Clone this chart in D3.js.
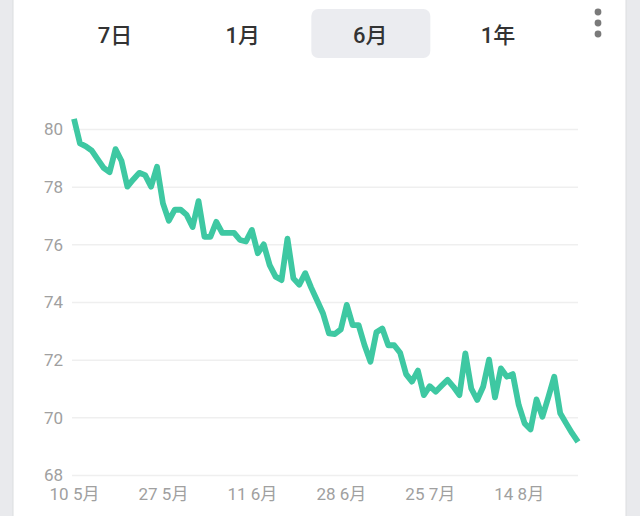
<!DOCTYPE html>
<html>
<head>
<meta charset="utf-8">
<script src="https://cdn.jsdelivr.net/npm/d3@7"></script>
<style>
  html, body { margin: 0; padding: 0; background: #e9eaed; }
  svg { display: block; }
</style>
</head>
<body>
<svg id="chart" width="640" height="516"></svg>
<script>
const tabLabels = ["7日", "1月", "6月", "1年"];
const selectedTab = "6月";

const values = [
  80.35, 79.5, 79.4, 79.25, 78.95, 78.65, 78.5, 79.3, 78.9, 78.0,
  78.25, 78.48, 78.4, 78.0, 78.69, 77.42, 76.82, 77.2, 77.2, 77.02,
  76.6, 77.5, 76.26, 76.26, 76.78, 76.4, 76.4, 76.4, 76.15, 76.1,
  76.5, 75.69, 76.0, 75.28, 74.88, 74.76, 76.2, 74.82, 74.6, 75.0,
  74.5, 74.05, 73.6, 72.91, 72.89, 73.05, 73.9, 73.2, 73.2, 72.5,
  71.93, 72.95, 73.08, 72.5, 72.5, 72.24, 71.5, 71.24, 71.62, 70.77,
  71.08, 70.89, 71.1, 71.3, 71.06, 70.77, 72.22, 71.0, 70.6, 71.06,
  72.0, 70.69, 71.7, 71.41, 71.5, 70.43, 69.79, 69.58, 70.62, 70.02,
  70.7, 71.41, 70.14, 69.79, 69.45, 69.15
];
const yTicks = [68, 70, 72, 74, 76, 78, 80];
const xTickIndex = [0, 15, 30, 45, 60, 75];
const xTickLabels = ["10 5月", "27 5月", "11 6月", "28 6月", "25 7月", "14 8月"];

const svg = d3.select("#chart");
const font = "Roboto, 'Noto Sans CJK SC', sans-serif";

// card
svg.append("rect").attr("x", 13).attr("y", -10).attr("width", 613).attr("height", 540)
  .attr("fill", "#ffffff").attr("stroke", "#dcdde0").attr("stroke-width", 1);

// tabs
const tabX = d3.scalePoint().domain(tabLabels).range([115, 498]);
svg.append("rect")
  .attr("x", tabX(selectedTab) - 59).attr("y", 9)
  .attr("width", 119).attr("height", 49).attr("rx", 7)
  .attr("fill", "#ebecf0");
svg.selectAll("text.tab").data(tabLabels).join("text")
  .attr("class", "tab")
  .attr("x", d => tabX(d)).attr("y", 35)
  .attr("text-anchor", "middle").attr("dominant-baseline", "central")
  .attr("font-family", font).attr("font-size", 22).attr("font-weight", 500)
  .attr("fill", "#333333")
  .text(d => d);

// menu dots
svg.selectAll("circle.dot").data([12, 23, 34]).join("circle")
  .attr("class", "dot")
  .attr("cx", 598).attr("cy", d => d).attr("r", 3.4).attr("fill", "#7a7a7a");

// scales
const x = d3.scaleLinear().domain([0, values.length - 1]).range([74, 578]);
const y = d3.scaleLinear().domain([68, 80]).range([475, 129]);

// gridlines + y labels
const yAxis = d3.axisLeft(y).tickValues(yTicks).tickSize(-506).tickPadding(9).tickFormat(d3.format("d"));
const gy = svg.append("g").attr("transform", "translate(72,0)").call(yAxis);
gy.select(".domain").remove();
gy.selectAll(".tick line").attr("stroke", "#efefef").attr("stroke-width", 1.5);
gy.selectAll(".tick text").attr("font-family", font).attr("font-size", 17)
  .attr("fill", "#a0a0a0").attr("x", -9).attr("dy", "0.34em");

// x labels
const xAxis = d3.axisBottom(x).tickValues(xTickIndex).tickSize(0).tickPadding(0)
  .tickFormat((d, i) => xTickLabels[i]);
const gx = svg.append("g").attr("transform", "translate(0,494)").call(xAxis);
gx.select(".domain").remove();
gx.selectAll(".tick text").attr("font-family", font).attr("font-size", 17)
  .attr("fill", "#a0a0a0").attr("dy", "0.35em").attr("y", 0);

// line
const line = d3.line().x((d, i) => x(i)).y(d => y(d));
svg.append("path").datum(values)
  .attr("d", line)
  .attr("fill", "none")
  .attr("stroke", "#3ec8a2")
  .attr("stroke-width", 5.8)
  .attr("stroke-linejoin", "round")
  .attr("stroke-linecap", "butt");
</script>
</body>
</html>
